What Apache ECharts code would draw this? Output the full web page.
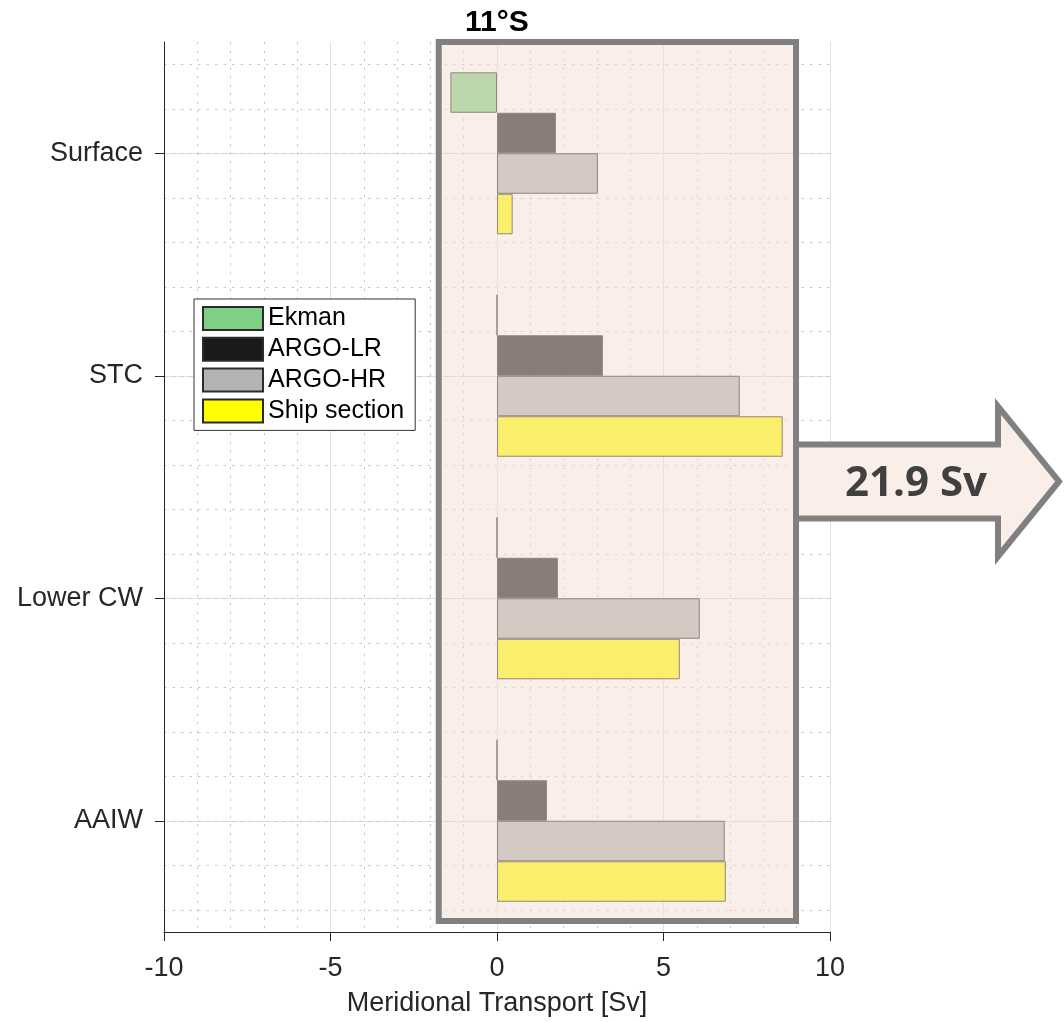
<!DOCTYPE html>
<html>
<head>
<meta charset="utf-8">
<script src="https://cdn.jsdelivr.net/npm/echarts@6/dist/echarts.min.js"></script>
<style>
  html, body { margin: 0; padding: 0; background: #ffffff; }
  #chart { width: 1064px; height: 1022px; }
</style>
</head>
<body>
<div id="chart"></div>
<script>
// Water-mass layers (top to bottom) and meridional transport per estimate [Sv]
const layers = ['Surface', 'STC', 'Lower CW', 'AAIW'];
const ekman = [-1.4, 0, 0, 0];
const argoLR = [1.77, 3.18, 1.83, 1.5];
const argoHR = [3.03, 7.29, 6.09, 6.84];
const shipSection = [0.47, 8.58, 5.49, 6.87];

// Transport axis ticks
const xTicks = [-10, -5, 0, 5, 10];

// Section annotation
const sectionTitle = '11°S';
const totalLabel = '21.9 Sv';
const sectionBoxX = [-1.75, 8.98];   // transport range covered by the highlight box
const sectionBoxY = [0.5, 4.45];     // layer-position range covered by the highlight box

const seriesDefs = [
  { name: 'Ekman', values: ekman, color: '#7fcf84' },
  { name: 'ARGO-LR', values: argoLR, color: '#1a1a1a' },
  { name: 'ARGO-HR', values: argoHR, color: '#b3b3b3' },
  { name: 'Ship section', values: shipSection, color: '#ffff00' }
];

const axisColor = '#262626';
const fontFamily = '"Liberation Sans", Arial, Helvetica, sans-serif';
const gridMajor = { color: '#e0e0e0', width: 1 };
const gridMinor = { color: '#c9c9c9', width: 1, type: [2.5, 6] };

const chart = echarts.init(document.getElementById('chart'), null, { renderer: 'canvas' });

const option = {
  animation: false,
  backgroundColor: '#ffffff',
  textStyle: { fontFamily: fontFamily },
  title: {
    text: sectionTitle,
    left: 465,
    top: 8,
    padding: 0,
    textStyle: { fontSize: 30, fontWeight: 'bold', color: '#000000', fontFamily: fontFamily }
  },
  legend: {
    orient: 'vertical',
    left: 194,
    top: 299,
    padding: [7, 11, 7, 8],
    itemGap: 5.8,
    itemWidth: 60,
    itemHeight: 23,
    icon: 'rect',
    backgroundColor: '#ffffff',
    borderColor: '#333333',
    borderWidth: 1,
    textStyle: { fontSize: 25, color: '#000000', fontFamily: fontFamily },
    data: seriesDefs.map(d => d.name)
  },
  grid: { left: 164, top: 42, width: 666, height: 892, containLabel: false },
  xAxis: {
    type: 'value',
    min: xTicks[0],
    max: xTicks[xTicks.length - 1],
    interval: xTicks[1] - xTicks[0],
    name: 'Meridional Transport [Sv]',
    nameLocation: 'middle',
    nameGap: 58,
    nameTextStyle: { fontSize: 27, color: axisColor, fontFamily: fontFamily },
    axisLine: { show: true, onZero: false, lineStyle: { color: axisColor, width: 1 } },
    axisTick: { show: true, inside: false, length: 9, lineStyle: { color: axisColor } },
    axisLabel: { fontSize: 27, color: axisColor, margin: 23, fontFamily: fontFamily },
    splitLine: { show: true, lineStyle: gridMajor },
    minorTick: { show: false, splitNumber: 5 },
    minorSplitLine: { show: true, lineStyle: gridMinor }
  },
  yAxis: [
    {
      type: 'category',
      data: layers,
      inverse: true,
      axisLine: { show: true, onZero: false, lineStyle: { color: axisColor, width: 1 } },
      axisTick: { show: true, alignWithLabel: true, length: 9, lineStyle: { color: axisColor } },
      axisLabel: { fontSize: 27, color: axisColor, margin: 21, fontFamily: fontFamily },
      splitLine: { show: false }
    },
    {
      // layer positions 1..4 for the major horizontal grid
      type: 'value',
      min: 0.5,
      max: 4.5,
      splitNumber: 4,
      inverse: true,
      axisLine: { show: false },
      axisTick: { show: false },
      axisLabel: { show: false },
      splitLine: { show: true, showMinLine: false, showMaxLine: false, lineStyle: gridMajor }
    },
    {
      // finer layer positions for the dotted horizontal grid
      type: 'value',
      min: 0.5,
      max: 4.5,
      splitNumber: 20,
      inverse: true,
      axisLine: { show: false },
      axisTick: { show: false },
      axisLabel: { show: false },
      splitLine: { show: true, showMinLine: false, showMaxLine: false, lineStyle: gridMinor }
    }
  ],
  series: seriesDefs.map(d => ({
    name: d.name,
    type: 'bar',
    xAxisIndex: 0,
    yAxisIndex: 0,
    data: d.values,
    barWidth: 40.5,
    barGap: '0%',
    itemStyle: { color: d.color, borderColor: '#2b2b2b', borderWidth: 1 },
    emphasis: { disabled: true }
  }))
};

chart.setOption(option);

// Highlight box over the section and the total-transport arrow
const px = v => chart.convertToPixel({ xAxisIndex: 0 }, v);
const py = v => chart.convertToPixel({ yAxisIndex: 1 }, v);
const bx0 = px(sectionBoxX[0]);
const bx1 = px(sectionBoxX[1]);
const by0 = py(sectionBoxY[0]);
const by1 = py(sectionBoxY[1]);
const ay = (by0 + by1) / 2;
const headX = 998, tipX = 1059, bodyHalf = 37, headHalf = 75;
const arrowPts = [
  [bx1 + 3, ay - bodyHalf], [headX, ay - bodyHalf], [headX, ay - headHalf],
  [tipX, ay], [headX, ay + headHalf], [headX, ay + bodyHalf], [bx1 + 3, ay + bodyHalf]
];

chart.setOption({
  graphic: [
    {
      type: 'rect', z: 100, silent: true,
      shape: { x: bx0, y: by0, width: bx1 - bx0, height: by1 - by0 },
      style: { fill: 'rgba(245,224,210,0.51)', stroke: '#808080', lineWidth: 6 }
    },
    {
      type: 'polygon', z: 100, silent: true,
      shape: { points: arrowPts },
      style: { fill: '#faefe8' }
    },
    {
      type: 'polyline', z: 101, silent: true,
      shape: { points: arrowPts },
      style: { fill: null, stroke: '#808080', lineWidth: 6, lineJoin: 'miter' }
    },
    {
      type: 'text', z: 102, silent: true,
      x: 916, y: ay + 3,
      style: {
        text: totalLabel,
        font: 'bold 42px "Open Sans", sans-serif',
        fill: '#404040',
        align: 'center',
        verticalAlign: 'middle'
      }
    }
  ]
});
</script>
</body>
</html>
